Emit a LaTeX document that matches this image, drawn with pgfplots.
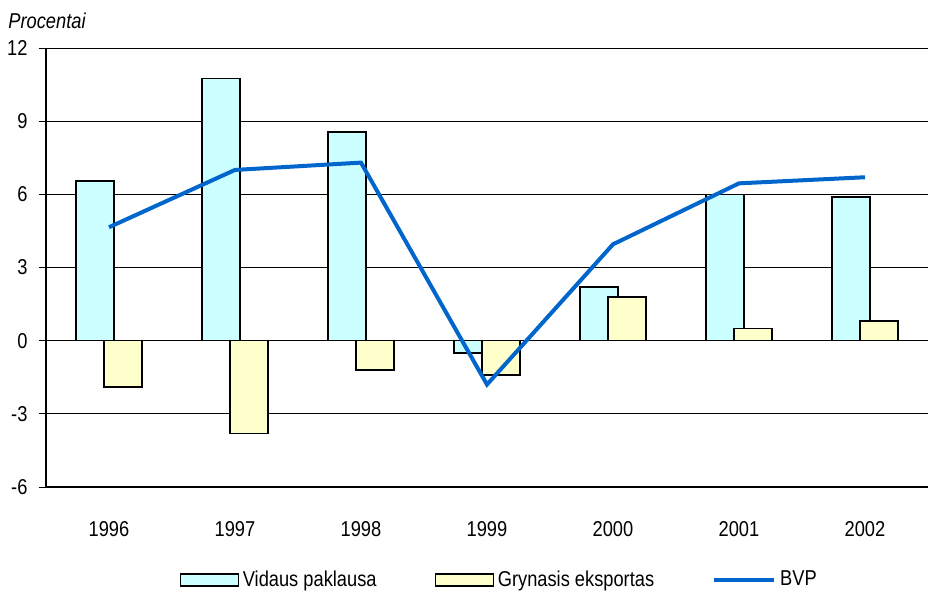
\documentclass[border=0pt]{standalone}
\usepackage{fontspec}
\setmainfont{Liberation Sans}[FakeStretch=0.85]
\usepackage{pgfplots}
\pgfplotsset{compat=1.18}
\definecolor{vid}{HTML}{CCFFFF}
\definecolor{gry}{HTML}{FFFFCC}
\definecolor{bvp}{HTML}{0066CC}
\pgfplotsset{
    barleg/.style={legend image code/.code={\draw[##1, line width=0.6pt] (0pt,-3pt) rectangle (29pt,3pt);}},
    lineleg/.style={legend image code/.code={\draw[##1] (0pt,0pt) -- (30pt,0pt);}},
}

\begin{document}
\fontsize{10.75}{12}\selectfont
\begin{tikzpicture}
\begin{axis}[
    scale only axis,
    width=441pt, height=219.5pt,
    xmin=-0.5, xmax=6.5,
    ymin=-6, ymax=12,
    ytick={-6,-3,...,12},
    xtick={0,...,6},
    xticklabels={1996,1997,1998,1999,2000,2001,2002},
    /pgf/number format/assume math mode=true,
    axis x line*=bottom, axis y line*=left,
    x axis line style={-, line width=1pt},
    y axis line style={-, line width=0.8pt},
    ymajorgrids,
    major grid style={black, line width=0.45pt},
    tick align=outside,
    major tick length=3.5pt,
    ytick style={black, line width=0.45pt},
    xtick style={draw=none},
    xticklabel style={yshift=-10pt},
    yticklabel style={xshift=-2pt},
    legend columns=3,
    legend style={draw=none, fill=none, at={(0.515,-0.212)}, anchor=center,
        /tikz/every even column/.append style={column sep=27pt},
        nodes={inner xsep=2pt}},
]
\addplot[ybar, bar width=19pt, bar shift=-7pt, fill=vid, draw=black, line width=0.8pt, barleg]
    coordinates {(0,6.55) (1,10.75) (2,8.55) (3,-0.5) (4,2.2) (5,6.0) (6,5.9)};
\addlegendentry{Vidaus paklausa}
\addplot[ybar, bar width=19pt, bar shift=7pt, fill=gry, draw=black, line width=0.8pt, barleg]
    coordinates {(0,-1.9) (1,-3.8) (2,-1.2) (3,-1.4) (4,1.8) (5,0.5) (6,0.8)};
\addlegendentry{Grynasis eksportas}
\addplot[bvp, line width=2pt, mark=none, lineleg]
    coordinates {(0,4.65) (1,7.0) (2,7.3) (3,-1.8) (4,3.95) (5,6.45) (6,6.7)};
\addlegendentry{BVP}
\end{axis}
\node[anchor=base west, font=\itshape, inner sep=0pt] at (-19pt,229pt) {Procentai};
\pgfresetboundingbox
\path[use as bounding box] (-23pt,-52.5pt) rectangle (441pt,243.5pt);
\end{tikzpicture}
\end{document}
